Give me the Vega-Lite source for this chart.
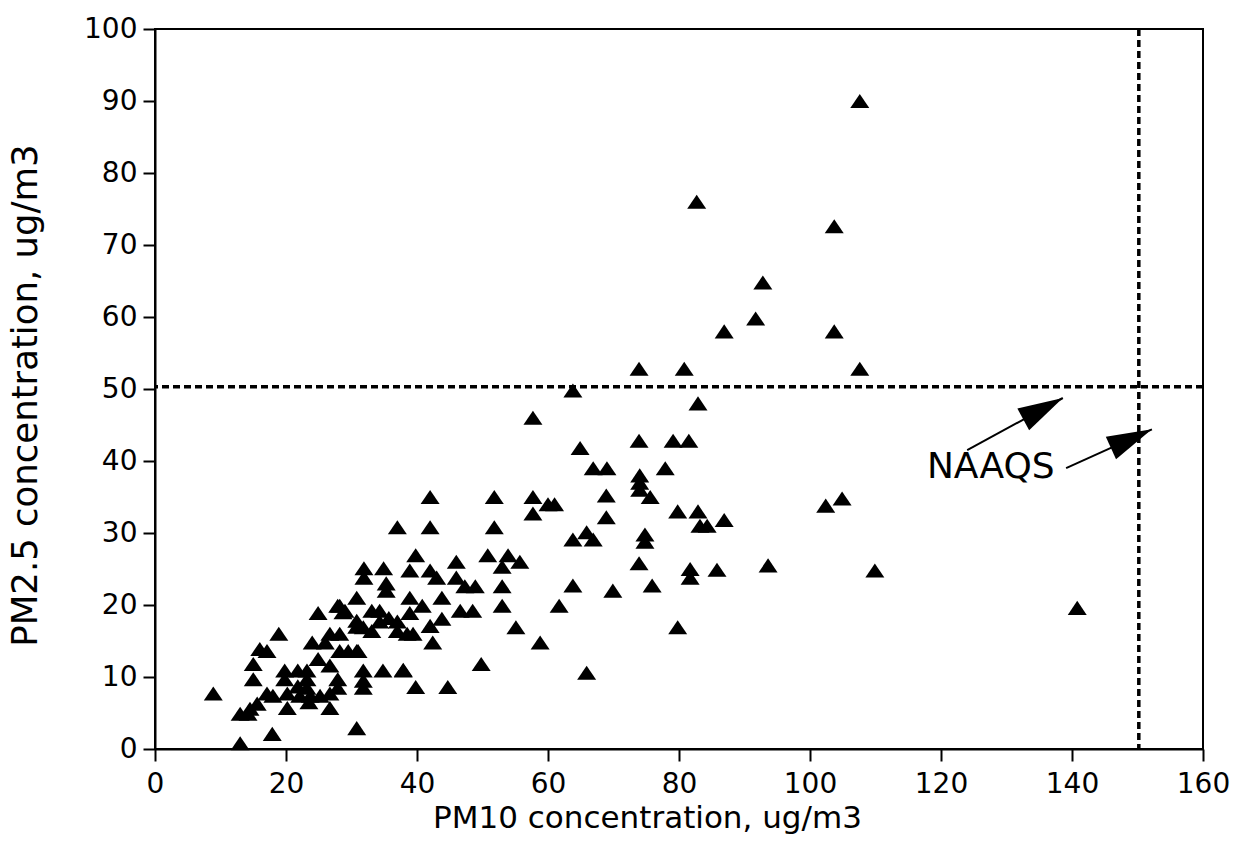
{
  "$schema": "https://vega.github.io/schema/vega-lite/v6.json",
  "width": 1048,
  "height": 720,
  "autosize": {"type": "none"},
  "padding": {"left": 155, "top": 29, "right": 36, "bottom": 110},
  "background": "white",
  "config": {
    "font": "DejaVu Sans",
    "view": {"stroke": "black", "strokeWidth": 2},
    "axis": {
      "domainColor": "black", "domainWidth": 2, "tickColor": "black", "tickWidth": 2, "tickSize": 12,
      "labelColor": "black", "labelFontSize": 28, "labelFont": "DejaVu Sans", "grid": false,
      "titleColor": "black", "titleFontSize": 31, "titleFont": "DejaVu Sans", "titleFontWeight": "normal",
      "labelFlush": false, "labelOverlap": false, "labelBound": false
    }
  },
  "datasets": {
    "pts": [
      {"pm10":107.6,"pm25":90},{"pm10":82.7,"pm25":76},{"pm10":103.7,"pm25":72.6},{"pm10":92.8,"pm25":64.8},{"pm10":91.7,"pm25":59.8},
      {"pm10":103.7,"pm25":58},{"pm10":86.9,"pm25":58},{"pm10":107.6,"pm25":52.8},{"pm10":73.9,"pm25":52.8},{"pm10":80.8,"pm25":52.8},
      {"pm10":63.8,"pm25":49.8},{"pm10":82.9,"pm25":48},{"pm10":57.7,"pm25":46},{"pm10":64.9,"pm25":41.8},{"pm10":73.9,"pm25":42.8},
      {"pm10":79.1,"pm25":42.8},{"pm10":81.5,"pm25":42.8},{"pm10":66.9,"pm25":39},{"pm10":69,"pm25":39},{"pm10":77.9,"pm25":39},
      {"pm10":74,"pm25":38},{"pm10":74,"pm25":37},{"pm10":74,"pm25":36},{"pm10":75.6,"pm25":35},{"pm10":42,"pm25":35},
      {"pm10":51.8,"pm25":35},{"pm10":57.7,"pm25":35},{"pm10":60,"pm25":34},{"pm10":61,"pm25":34},{"pm10":57.7,"pm25":32.7},
      {"pm10":68.9,"pm25":35.2},{"pm10":68.9,"pm25":32.2},{"pm10":79.8,"pm25":33},{"pm10":82.9,"pm25":33},{"pm10":83.2,"pm25":31},
      {"pm10":84.3,"pm25":31},{"pm10":86.9,"pm25":31.8},{"pm10":63.8,"pm25":29.1},{"pm10":65.9,"pm25":30.1},{"pm10":66.9,"pm25":29.1},
      {"pm10":74.8,"pm25":29.8},{"pm10":74.8,"pm25":28.8},{"pm10":42,"pm25":30.8},{"pm10":51.8,"pm25":30.8},{"pm10":37,"pm25":30.8},
      {"pm10":73.9,"pm25":25.8},{"pm10":81.7,"pm25":25},{"pm10":81.7,"pm25":23.8},{"pm10":85.8,"pm25":24.9},{"pm10":63.8,"pm25":22.7},
      {"pm10":69.9,"pm25":22},{"pm10":75.9,"pm25":22.7},{"pm10":61.7,"pm25":19.9},{"pm10":79.8,"pm25":16.9},{"pm10":55.1,"pm25":16.9},
      {"pm10":58.8,"pm25":14.8},{"pm10":49.8,"pm25":11.8},{"pm10":65.9,"pm25":10.6},{"pm10":39.8,"pm25":8.6},{"pm10":44.7,"pm25":8.6},
      {"pm10":37.9,"pm25":10.9},{"pm10":140.8,"pm25":19.6},{"pm10":109.9,"pm25":24.8},{"pm10":93.6,"pm25":25.5},{"pm10":102.4,"pm25":33.8},
      {"pm10":104.9,"pm25":34.8},
      {"pm10":39.8,"pm25":26.9},{"pm10":38.9,"pm25":24.8},{"pm10":42,"pm25":24.8},{"pm10":43,"pm25":23.8},{"pm10":46,"pm25":26},
      {"pm10":46,"pm25":23.8},{"pm10":47.3,"pm25":22.6},{"pm10":48.9,"pm25":22.6},{"pm10":50.8,"pm25":26.9},{"pm10":53.9,"pm25":26.9},
      {"pm10":53,"pm25":25.3},{"pm10":55.7,"pm25":26},{"pm10":53,"pm25":22.6},{"pm10":53,"pm25":19.9},{"pm10":46.6,"pm25":19.2},
      {"pm10":48.5,"pm25":19.2},{"pm10":43.8,"pm25":21},{"pm10":38.9,"pm25":21},{"pm10":40.8,"pm25":19.9},{"pm10":38.9,"pm25":18.9},
      {"pm10":43.8,"pm25":18.1},{"pm10":42,"pm25":17.1},{"pm10":42.4,"pm25":14.8},{"pm10":38.5,"pm25":16},{"pm10":39.4,"pm25":16},
      {"pm10":31.9,"pm25":25.1},{"pm10":34.9,"pm25":25.1},{"pm10":31.9,"pm25":23.8},{"pm10":35.3,"pm25":23},{"pm10":35.3,"pm25":22},
      {"pm10":28.2,"pm25":19.9},{"pm10":29,"pm25":19.2},{"pm10":33.1,"pm25":19.2},{"pm10":34.3,"pm25":19.2},{"pm10":35.7,"pm25":18.2},
      {"pm10":34.3,"pm25":17.7},{"pm10":37,"pm25":17.7},{"pm10":37,"pm25":16.4},{"pm10":33.1,"pm25":16.4},{"pm10":30.8,"pm25":17},
      {"pm10":31,"pm25":13.6},{"pm10":29.5,"pm25":13.6},{"pm10":31.8,"pm25":10.9},{"pm10":34.8,"pm25":10.9},{"pm10":37.9,"pm25":11},
      {"pm10":30.8,"pm25":21},{"pm10":27.9,"pm25":19.9},{"pm10":24.9,"pm25":18.9},{"pm10":28.7,"pm25":19},{"pm10":30.8,"pm25":17.8},
      {"pm10":31.8,"pm25":16.9},{"pm10":18.9,"pm25":16},{"pm10":26.7,"pm25":16},{"pm10":28.2,"pm25":16},{"pm10":24,"pm25":14.8},
      {"pm10":26,"pm25":14.8},{"pm10":16,"pm25":13.9},{"pm10":17.1,"pm25":13.6},{"pm10":28.2,"pm25":13.6},{"pm10":30.8,"pm25":13.6},
      {"pm10":24.9,"pm25":12.5},{"pm10":26.7,"pm25":11.6},{"pm10":15,"pm25":11.8},{"pm10":19.8,"pm25":10.9},{"pm10":21.8,"pm25":10.9},
      {"pm10":23.2,"pm25":10.9},{"pm10":15,"pm25":9.7},{"pm10":19.8,"pm25":9.7},{"pm10":23.2,"pm25":9.7},{"pm10":23.2,"pm25":8.5},
      {"pm10":27.9,"pm25":9.7},{"pm10":27.9,"pm25":8.5},{"pm10":31.8,"pm25":9.5},{"pm10":31.8,"pm25":8.5},{"pm10":8.9,"pm25":7.7},
      {"pm10":17.1,"pm25":7.7},{"pm10":18,"pm25":7.4},{"pm10":20.2,"pm25":7.7},{"pm10":22.1,"pm25":7.4},{"pm10":23.7,"pm25":7.4},
      {"pm10":25.2,"pm25":7.4},{"pm10":26.7,"pm25":7.7},{"pm10":15.6,"pm25":6.3},{"pm10":14.5,"pm25":5.6},{"pm10":20.2,"pm25":5.7},
      {"pm10":26.7,"pm25":5.7},{"pm10":13,"pm25":4.9},{"pm10":14.2,"pm25":4.9},{"pm10":30.8,"pm25":2.9},{"pm10":17.9,"pm25":2.1},
      {"pm10":13,"pm25":0.8},{"pm10":21.8,"pm25":8.7},{"pm10":23.5,"pm25":6.5}
    ]
  },
  "layer": [
    {
      "data": {"name": "pts"},
      "mark": {"type": "point", "shape": "M 0 -0.74 L 1 0.74 L -1 0.74 Z", "filled": true, "color": "black", "opacity": 1, "size": 361},
      "encoding": {
        "x": {"field": "pm10", "type": "quantitative", "scale": {"domain": [0, 160], "nice": false, "zero": false},
              "axis": {"values": [0,20,40,60,80,100,120,140,160], "title": "PM10 concentration, ug/m3", "labelPadding": 9,
                       "titleX": 492, "titleY": 69, "titleBaseline": "middle", "titleAlign": "center"}},
        "y": {"field": "pm25", "type": "quantitative", "scale": {"domain": [0, 100], "nice": false, "zero": false},
              "axis": {"values": [0,10,20,30,40,50,60,70,80,90,100], "title": "PM2.5 concentration, ug/m3", "labelPadding": 6,
                       "titleFontSize": 35.5,
                       "titleX": -130, "titleY": 366, "titleAngle": -90, "titleBaseline": "middle", "titleAlign": "center"}}
      }
    },
    {
      "data": {"values": [{"limit": 50.3}]},
      "mark": {"type": "rule", "color": "black", "strokeWidth": 3.5, "strokeDash": [7, 4]},
      "encoding": {"y": {"field": "limit", "type": "quantitative"}}
    },
    {
      "data": {"values": [{"limit": 150.2}]},
      "mark": {"type": "rule", "color": "black", "strokeWidth": 3.5, "strokeDash": [7, 4]},
      "encoding": {"x": {"field": "limit", "type": "quantitative"}}
    },
    {
      "data": {"values": [{"x1": 124, "y1": 41.5, "x2": 138.6, "y2": 48.75}, {"x1": 139.1, "y1": 39.0, "x2": 152.2, "y2": 44.4}]},
      "mark": {"type": "rule", "color": "black", "strokeWidth": 2},
      "encoding": {
        "x": {"field": "x1", "type": "quantitative"},
        "y": {"field": "y1", "type": "quantitative"},
        "x2": {"field": "x2"},
        "y2": {"field": "y2"}
      }
    },
    {
      "data": {"values": [{"x": 138.6, "y": 48.75}]},
      "mark": {"type": "point", "shape": "M 0 0 L -2 -0.55 L -2 0.55 Z", "filled": true, "color": "black", "opacity": 1, "size": 2025, "angle": -28.4},
      "encoding": {
        "x": {"field": "x", "type": "quantitative"},
        "y": {"field": "y", "type": "quantitative"}
      }
    },
    {
      "data": {"values": [{"x": 152.2, "y": 44.4}]},
      "mark": {"type": "point", "shape": "M 0 0 L -2 -0.55 L -2 0.55 Z", "filled": true, "color": "black", "opacity": 1, "size": 2025, "angle": -24.4},
      "encoding": {
        "x": {"field": "x", "type": "quantitative"},
        "y": {"field": "y", "type": "quantitative"}
      }
    },
    {
      "data": {"values": [{"x": 127.6, "y": 39.2, "label": "NAAQS"}]},
      "mark": {"type": "text", "fontSize": 36, "font": "DejaVu Sans", "color": "black", "align": "center", "baseline": "middle"},
      "encoding": {
        "x": {"field": "x", "type": "quantitative"},
        "y": {"field": "y", "type": "quantitative"},
        "text": {"field": "label"}
      }
    }
  ]
}
